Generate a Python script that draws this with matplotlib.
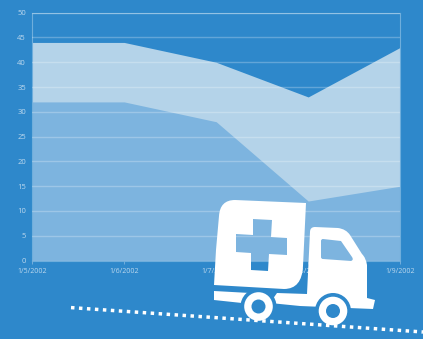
import matplotlib
matplotlib.use('Agg')
import matplotlib.pyplot as plt
from matplotlib.path import Path
from matplotlib.patches import PathPatch, Circle, Wedge

dates = ['1/5/2002', '1/6/2002', '1/7/2002', '1/8/2002', '1/9/2002']
upper_values = [44, 44, 40, 33, 43]
lower_values = [32, 32, 28, 12, 15]
y_ticks = [0, 5, 10, 15, 20, 25, 30, 35, 40, 45, 50]

W, H = 423, 339
BG = '#2E88CB'
UPPER = '#B4D3E9'
LOWER = '#7DB4DF'
TEXT = '#BCD8EE'

plt.rcParams['font.family'] = ['Open Sans', 'DejaVu Sans']

fig = plt.figure(figsize=(W / 100, H / 100), dpi=100, facecolor=BG)
ax = fig.add_axes([32.2 / W, 1 - 260.5 / H, 368 / W, 247.8 / H], facecolor=BG)

x = list(range(len(dates)))
ax.fill_between(x, 0, upper_values, color=UPPER, lw=0, zorder=1)
ax.fill_between(x, 0, lower_values, color=LOWER, lw=0, zorder=2)

ax.set_xlim(0, 4)
ax.set_ylim(0, 50)
ax.set_xticks(x)
ax.set_xticklabels(dates)
ax.set_yticks(y_ticks)
ax.tick_params(axis='x', length=2, width=0.6, color='#7DB4DF', labelsize=5, labelcolor=TEXT, pad=3.2)
ax.tick_params(axis='y', length=0, labelsize=5.5, labelcolor=TEXT, pad=4.5)
ax.grid(axis='y', color='white', alpha=0.25, lw=1, zorder=3)
ax.set_axisbelow(False)
for s in ax.spines.values():
    s.set_color('#6FAEDC')
    s.set_linewidth(0.8)


# overlay axes in pixel coordinates for the truck icon
ov = fig.add_axes([0, 0, 1, 1])
ov.set_xlim(0, W)
ov.set_ylim(H, 0)
ov.axis('off')
ov.patch.set_alpha(0)


def rounded(pts):
    # pts: (x, y) corners, or (x, y, cx, cy) for a curve through control point
    verts, codes = [], []
    for i, p in enumerate(pts):
        if len(p) == 4:
            verts += [(p[2], p[3]), (p[0], p[1])]
            codes += [Path.CURVE3, Path.CURVE3]
        else:
            verts.append(p)
            codes.append(Path.MOVETO if i == 0 else Path.LINETO)
    verts.append(verts[0])
    codes.append(Path.CLOSEPOLY)
    return verts, codes


# box with the cross cut out (holes wind the opposite way)
box_v, box_c = rounded([(219, 216), (235, 200, 220, 200), (306, 203), (303, 266),
                        (284, 289, 302, 289), (214, 285), (216, 250)])
cross_v, cross_c = rounded([(253, 235), (236, 234), (236, 252), (251, 253), (251, 270), (268, 271),
                            (269, 254), (287, 255), (287, 238), (271, 237), (272, 220), (253, 219)])
ov.add_patch(PathPatch(Path(box_v + cross_v, box_c + cross_c), fc='white', ec='none', zorder=5))

# cab and chassis with the window cut out
cab_v, cab_c = rounded([(310, 232), (315, 227, 310, 227), (338, 228), (350, 235, 346, 229),
                        (362, 254), (367, 265, 366, 258), (367, 298), (375, 300), (373, 309),
                        (300, 306), (270, 303), (277, 293), (307, 294)])
win_v, win_c = rounded([(321, 257), (323, 259, 321, 259), (351, 261), (352, 257, 354, 260),
                        (341, 241, 341, 241), (323, 239), (321, 241, 321, 239)])
ov.add_patch(PathPatch(Path(cab_v + win_v, cab_c + win_c), fc='white', ec='none', zorder=5))

# flat bed under the box
bed_v, bed_c = rounded([(214, 291), (250, 293), (242, 303), (214, 300)])
ov.add_patch(PathPatch(Path(bed_v, bed_c), fc='white', ec='none', zorder=5))

for cx, cy in [(258.5, 306.5), (333, 311)]:
    ov.add_patch(Wedge((cx, cy), 18, 180, 360, fc=BG, ec='none', zorder=6))
    ov.add_patch(Circle((cx, cy), 14.3, fc='white', ec='none', zorder=7))
    ov.add_patch(Circle((cx, cy), 7, fc=BG, ec='none', zorder=8))

# dotted road line
ov.plot([71, 423], [307.6, 332], color='white', lw=2.5, ls=(0, (1, 1.3)), zorder=4)

fig.savefig('out.png', dpi=100, facecolor=BG)
